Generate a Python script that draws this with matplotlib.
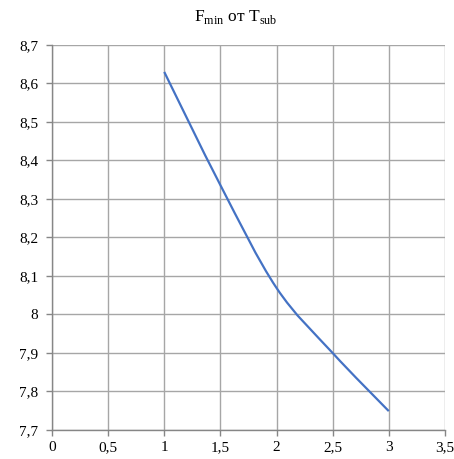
import matplotlib
matplotlib.use("Agg")
import matplotlib.pyplot as plt
from matplotlib.path import Path
from matplotlib.patches import PathPatch
from matplotlib.ticker import FuncFormatter, MultipleLocator

plt.rcParams['font.family'] = ['Liberation Serif', 'DejaVu Serif']
plt.rcParams['mathtext.fontset'] = 'custom'
plt.rcParams['mathtext.rm'] = 'Liberation Serif'

# data
t_sub = [1.0, 1.5, 2.0, 2.5, 3.0]
f_min = [8.63, 8.336, 8.069, 7.90, 7.749]

fig = plt.figure(figsize=(4.54, 4.59), dpi=100)
ax = fig.add_axes([0.1145, 0.0632, 0.8655, 0.8388])

# smoothed line like excel: bezier segments through the data points
pts = list(zip(t_sub, f_min))
verts = [pts[0]]
codes = [Path.MOVETO]
n = len(pts)
for i in range(n - 1):
    p0 = pts[i - 1] if i > 0 else pts[i]
    p1 = pts[i]
    p2 = pts[i + 1]
    p3 = pts[i + 2] if i + 2 < n else pts[i + 1]
    c1 = (p1[0] + (p2[0] - p0[0]) / 6, p1[1] + (p2[1] - p0[1]) / 6)
    c2 = (p2[0] - (p3[0] - p1[0]) / 6, p2[1] - (p3[1] - p1[1]) / 6)
    verts += [c1, c2, p2]
    codes += [Path.CURVE4] * 3
ax.add_patch(PathPatch(Path(verts, codes), fill=False, edgecolor='#4472C4',
                       lw=1.6, capstyle='butt', zorder=3))

ax.set_xlim(0, 3.5)
ax.set_ylim(7.7, 8.7)
ax.xaxis.set_major_locator(MultipleLocator(0.5))
ax.yaxis.set_major_locator(MultipleLocator(0.1))

def comma(v, pos):
    s = ('%.1f' % v).rstrip('0').rstrip('.')
    return s.replace('.', ',')

ax.xaxis.set_major_formatter(FuncFormatter(comma))
ax.yaxis.set_major_formatter(FuncFormatter(comma))

ax.grid(True, color='#a6a6a6', lw=1.0)
ax.set_axisbelow(True)
for s in ['top', 'right']:
    ax.spines[s].set_visible(False)
for s in ['left', 'bottom']:
    ax.spines[s].set_color('#868686')
    ax.spines[s].set_linewidth(1.0)
ax.tick_params(axis='both', colors='#868686', labelcolor='black', labelsize=11,
               length=4, width=1.0, direction='out')
ax.tick_params(axis='y', pad=6)
ax.tick_params(axis='x', pad=4)

fig.text(0.52, 0.963, r'F$_{\mathrm{min}}$ от T$_{\mathrm{sub}}$',
         ha='center', va='center', fontsize=12.5)

fig.savefig('out.png', dpi=100)
